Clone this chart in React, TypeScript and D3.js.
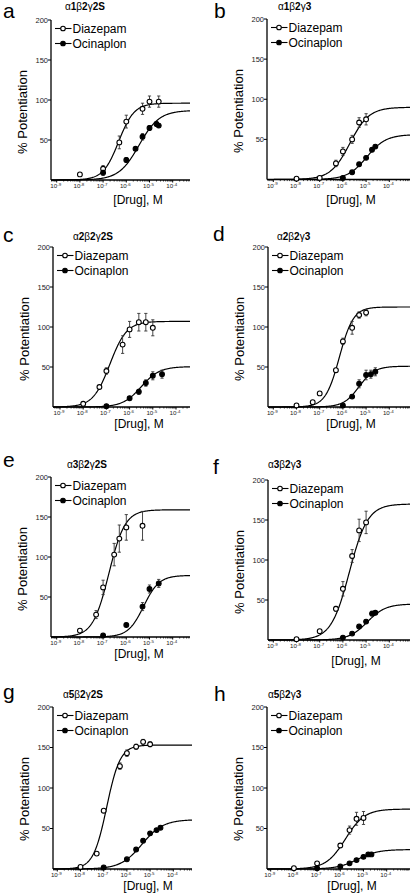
import React from "react";
import * as d3 from "d3";

// ---------- DATA ----------
const panelLetters = ["a", "b", "c", "d", "e", "f", "g", "h"];
const panelTitles = ["α1β2γ2S", "α1β2γ3", "α2β2γ2S", "α2β2γ3", "α3β2γ2S", "α3β2γ3", "α5β2γ2S", "α5β2γ3"];
const seriesNames = ["Diazepam", "Ocinaplon"];
const yTicks = [50, 100, 150, 200];
const xTickExponents = [-9, -8, -7, -6, -5, -4];
const xLabel = "[Drug], M";
const yLabel = "% Potentiation";

// Diazepam observations (M, % potentiation, SEM)
const diazConc = [
  [1e-8, 1e-7, 5e-7, 1e-6, 5e-6, 1e-5, 2.5e-5],
  [1e-8, 1e-7, 5e-7, 1e-6, 2.5e-6, 5e-6, 1e-5],
  [1e-8, 5e-8, 1e-7, 5e-7, 1e-6, 2.5e-6, 5e-6, 1e-5],
  [1e-8, 5e-8, 1e-7, 5e-7, 1e-6, 2.5e-6, 5e-6, 1e-5],
  [1e-8, 5e-8, 1e-7, 3e-7, 5e-7, 1e-6, 5e-6],
  [1e-8, 1e-7, 5e-7, 1e-6, 2.5e-6, 5e-6, 1e-5],
  [1e-8, 5e-8, 1e-7, 5e-7, 1e-6, 2.5e-6, 5e-6, 1e-5],
  [1e-8, 1e-7, 1e-6, 2.5e-6, 5e-6, 1e-5],
];
const diazValue = [
  [7, 14, 47, 73, 89, 98, 98],
  [1, 2, 20, 35, 50, 71, 75],
  [4, 25, 45, 78, 97, 106, 106, 99],
  [2, 6, 17, 46, 82, 99, 115, 118],
  [8, 28, 62, 103, 123, 137, 139],
  [1, 11, 39, 64, 105, 137, 147],
  [2.5, 19, 72, 127, 143, 151, 157, 154],
  [1, 7, 29, 48, 62, 63],
];
const diazError = [
  [0, 4, 8, 8, 7, 7, 7],
  [0, 2, 4, 5, 5, 6, 7],
  [0, 2, 4, 11, 10, 11, 11, 10],
  [0, 0, 0, 2, 4, 8, 4, 4],
  [2, 5, 9, 14, 17, 16, 18],
  [0, 0, 3, 9, 8, 14, 14],
  [0, 0, 0, 4, 4, 3, 3, 3],
  [0, 1, 2, 5, 8, 8],
];

// Ocinaplon observations
const ocinConc = [
  [1e-7, 1e-6, 2.5e-6, 5e-6, 1e-5, 2e-5, 2.5e-5],
  [1e-6, 2.5e-6, 5e-6, 1e-5, 1.8e-5, 2.5e-5],
  [1e-7, 1e-6, 2.5e-6, 5e-6, 1e-5, 2.5e-5],
  [1e-6, 2.5e-6, 5e-6, 1e-5, 1.6e-5, 2.5e-5],
  [1e-7, 1e-6, 5e-6, 1e-5, 2.5e-5],
  [1e-6, 2.5e-6, 5e-6, 1e-5, 1.8e-5, 2.5e-5],
  [1e-7, 1e-6, 2.5e-6, 5e-6, 1e-5, 1.9e-5, 2.8e-5],
  [1e-7, 1e-6, 2.5e-6, 5e-6, 1e-5, 1.6e-5, 2.2e-5],
];
const ocinValue = [
  [9, 25, 39, 54, 65, 70, 68],
  [2, 9, 19, 27, 37, 41],
  [1, 11, 19, 30, 39, 41],
  [2, 13, 29, 40, 41, 44],
  [2, 15, 38, 60, 67],
  [3, 8, 17, 23, 33, 34],
  [2, 12, 24, 35, 44, 48, 51],
  [1, 3, 7, 11, 15, 18, 18],
];
const ocinError = [
  [3, 3, 2, 4, 3, 3, 2],
  [0, 2, 2, 2, 2, 2],
  [0, 2, 3, 4, 5, 5],
  [0, 2, 5, 6, 5, 5],
  [0, 2, 5, 5, 5],
  [0, 1, 1, 2, 3, 2],
  [0, 1, 2, 2, 2, 2, 2],
  [0, 1, 1, 1, 2, 2, 1],
];

// Hill fit parameters
const diazEmax = [96, 90, 107, 125, 159, 170, 153, 74];
const diazLogEC50 = [-6.33, -5.7, -6.85, -6.15, -6.75, -5.72, -6.87, -5.78];
const diazHill = [1.3, 1.05, 1.2, 1.45, 1.25, 1.1, 1.5, 1.05];
const ocinEmax = [87, 56, 50.5, 51, 77, 45, 61, 24];
const ocinLogEC50 = [-5.45, -4.97, -5.5, -5.3, -5.25, -4.95, -5.35, -5.25];
const ocinHill = [1.0, 1.05, 1.1, 1.3, 1.3, 1.1, 0.95, 1.0];

// ---------- LAYOUT ----------
const W = 410;
const H = 896;
const DECADE = 23.2;
const panelLeft = [51, 267, 53, 268, 51, 268, 53, 267];
const panelRight = [190, 410, 190, 410, 190, 410, 192, 410];
const panelTop = [20, 19, 247, 247, 477, 480, 707, 707];
const panelBottom = [180, 179.5, 407, 407, 637, 640, 869, 869];
const panelX9 = [56.7, 273.3, 60, 273.3, 56.7, 273.3, 57.3, 270.7];
const titleX = [65, 278, 73, 277, 67, 268, 63, 268];
const titleY = [10, 10, 240, 240, 468, 468, 698, 698];
const letterX = [3, 214, 3, 213, 3, 213, 3, 214];
const letterY = [18, 18, 242, 241, 467, 474, 699, 701];
const xLabelX = [138, 351, 139, 351, 139, 356, 148, 352];
const xLabelY = [204, 204, 428, 428, 658, 665, 890, 890];

const FONT = "'Liberation Sans', Arial, Helvetica, sans-serif";

function hill(logc: number, emax: number, logec: number, n: number) {
  return emax / (1 + Math.pow(10, (logec - logc) * n));
}

function Title({ text, x, y }: { text: string; x: number; y: number }) {
  const chars = Array.from(text);
  return (
    <text x={x} y={y} fontSize={10} fontFamily={FONT}>
      {chars.map((c, k) => (
        <tspan key={k} fontWeight={/[A-Za-z0-9]/.test(c) ? "bold" : "normal"}>
          {c}
        </tspan>
      ))}
    </text>
  );
}

function Panel({ i }: { i: number }) {
  const left = panelLeft[i];
  const right = panelRight[i];
  const top = panelTop[i];
  const bottom = panelBottom[i];
  const x = d3.scaleLog().domain([1e-9, 1e-4]).range([panelX9[i], panelX9[i] + 5 * DECADE]);
  const y = d3.scaleLinear().domain([0, 200]).range([bottom, top]);
  const lo = Math.log10(x.invert(left));
  const hi = Math.log10(x.invert(right));
  const line = d3
    .line<[number, number]>()
    .x((d) => x(Math.pow(10, d[0])))
    .y((d) => y(d[1]));

  const series = [
    { conc: diazConc[i], val: diazValue[i], err: diazError[i], emax: diazEmax[i], ec: diazLogEC50[i], n: diazHill[i], open: true },
    { conc: ocinConc[i], val: ocinValue[i], err: ocinError[i], emax: ocinEmax[i], ec: ocinLogEC50[i], n: ocinHill[i], open: false },
  ];

  const minor: number[] = [];
  for (let e = -10; e <= -3; e++) {
    for (let m = 2; m <= 9; m++) {
      const px = x(m * Math.pow(10, e));
      if (px > left + 0.5 && px < right - 0.5) minor.push(px);
    }
  }

  return (
    <g>
      <text x={letterX[i]} y={letterY[i]} fontSize={21} fontFamily={FONT}>
        {panelLetters[i]}
      </text>
      <Title text={panelTitles[i]} x={titleX[i]} y={titleY[i]} />

      {/* axes */}
      <line x1={left} x2={left} y1={top} y2={bottom} stroke="#000" strokeWidth={1.3} />
      <line x1={left} x2={right} y1={bottom} y2={bottom} stroke="#000" strokeWidth={1.3} />
      {yTicks.map((t) => (
        <g key={t}>
          <line x1={left - 3} x2={left} y1={y(t)} y2={y(t)} stroke="#000" strokeWidth={1} />
          <text x={left - 3} y={y(t) + 2.6} fontSize={7.5} textAnchor="end" fontFamily={FONT} fill="#222">
            {t}
          </text>
        </g>
      ))}
      {minor.map((px, k) => (
        <line key={k} x1={px} x2={px} y1={bottom} y2={bottom + 1.6} stroke="#000" strokeWidth={0.7} />
      ))}
      {xTickExponents.map((e) => {
        const px = x(Math.pow(10, e));
        return (
          <g key={e}>
            <line x1={px} x2={px} y1={bottom} y2={bottom + 2.5} stroke="#000" strokeWidth={1} />
            <text x={px - 1} y={bottom + 8.3} fontSize={6.2} textAnchor="middle" fontFamily={FONT} fill="#222">
              10
              <tspan dy={-2.8} fontSize={4.4}>
                {"-" + Math.abs(e)}
              </tspan>
            </text>
          </g>
        );
      })}

      <text x={xLabelX[i]} y={xLabelY[i]} fontSize={12} textAnchor="middle" fontFamily={FONT}>
        {xLabel}
      </text>
      <text
        transform={`translate(${left - 27},${top + 92}) rotate(-90)`}
        fontSize={13}
        textAnchor="middle"
        dominantBaseline="middle"
        fontFamily={FONT}
      >
        {yLabel}
      </text>

      {/* curves */}
      {series.map((s, k) => {
        const pts: [number, number][] = d3.range(0, 241).map((j) => {
          const lc = lo + ((hi - lo) * j) / 240;
          return [lc, hill(lc, s.emax, s.ec, s.n)];
        });
        return <path key={k} d={line(pts) || ""} fill="none" stroke="#000" strokeWidth={1.2} />;
      })}

      {/* error bars and markers */}
      {series.map((s, k) => (
        <g key={k}>
          {s.conc.map((c, j) => {
            const px = x(c);
            const e = s.err[j];
            if (e <= 0) return null;
            const y1 = y(s.val[j] + e);
            const y2 = y(s.val[j] - e);
            return (
              <g key={j} stroke="#333" strokeWidth={0.9}>
                <line x1={px} x2={px} y1={y1} y2={y2} />
                <line x1={px - 1.6} x2={px + 1.6} y1={y1} y2={y1} />
                <line x1={px - 1.6} x2={px + 1.6} y1={y2} y2={y2} />
              </g>
            );
          })}
          {s.conc.map((c, j) => (
            <circle
              key={j}
              cx={x(c)}
              cy={y(s.val[j])}
              r={2.4}
              fill={s.open ? "#fff" : "#000"}
              stroke="#000"
              strokeWidth={1.1}
            />
          ))}
        </g>
      ))}

      {/* legend */}
      {seriesNames.map((name, k) => {
        const ly = top + 8.5 + k * 15;
        return (
          <g key={name}>
            <line x1={left + 4} x2={left + 20.5} y1={ly} y2={ly} stroke="#000" strokeWidth={1.1} />
            <circle cx={left + 12} cy={ly} r={2.3} fill={k === 0 ? "#fff" : "#000"} stroke="#000" strokeWidth={1.1} />
            <text x={left + 21.5} y={ly + 4.3} fontSize={12} fontFamily={FONT}>
              {name}
            </text>
          </g>
        );
      })}
    </g>
  );
}

export default function App() {
  return (
    <svg
      width={W}
      height={H}
      viewBox={`0 0 ${W} ${H}`}
      style={{ position: "absolute", left: 0, top: 0, background: "#fff" }}
    >
      <rect x={0} y={0} width={W} height={H} fill="#fff" />
      {panelLetters.map((_, i) => (
        <Panel key={i} i={i} />
      ))}
    </svg>
  );
}
